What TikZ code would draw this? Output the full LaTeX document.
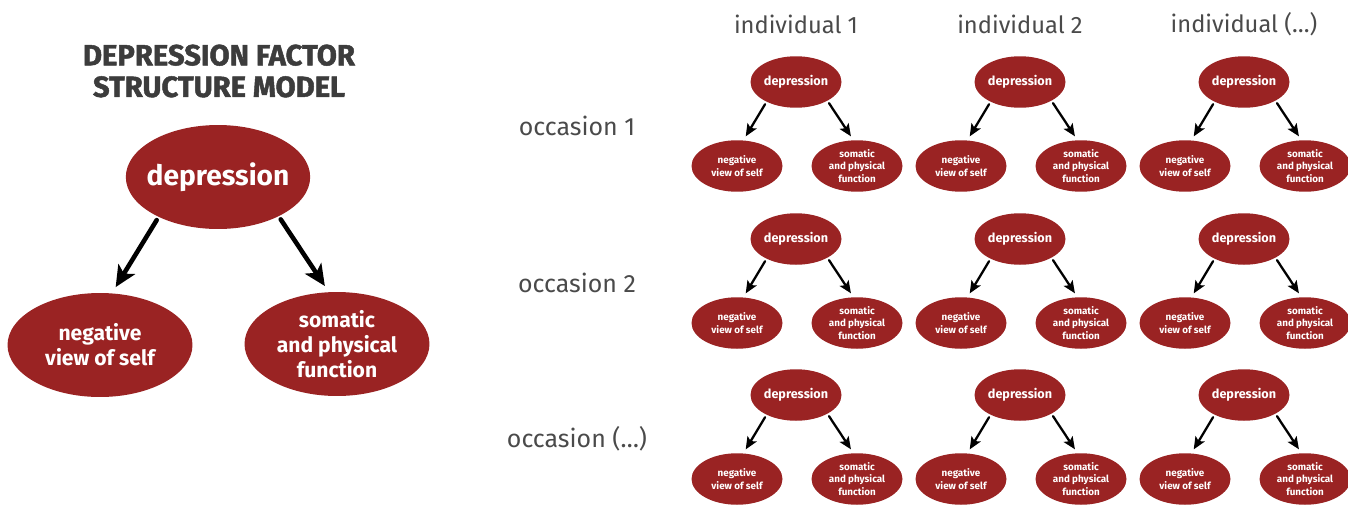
\documentclass[tikz,border=0pt]{standalone}
\usepackage{fontspec}
\setmainfont{Fira Sans}
\newfontfamily\heavyfont{Fira Sans}[BoldFeatures={FakeBold=1.6}]
\usetikzlibrary{shapes.geometric,arrows.meta}
\definecolor{factorred}{HTML}{9A2323}
\definecolor{titlegray}{HTML}{3C3C3C}
\definecolor{labelgray}{HTML}{4A4A4A}
\begin{document}
\begin{tikzpicture}[x=0.02cm,y=-0.02cm,line cap=round,
  factor/.style={ellipse,fill=factorred,text=white,inner sep=0pt,align=center,font=\bfseries},
  bigfactor/.style={factor,minimum width=3.7cm,minimum height=2.08cm,font=\bfseries\fontsize{12}{14.2}\selectfont},
  smallfactor/.style={factor,minimum width=1.82cm,minimum height=1.03cm,font=\bfseries\fontsize{5.6}{7}\selectfont},
  bigload/.style={-{Stealth[length=12pt,width=11pt,inset=3pt]},line width=2.6pt,shorten <=2pt,shorten >=4pt},
  smallload/.style={-{Stealth[length=7pt,width=6pt,inset=1.5pt]},line width=1.3pt,shorten <=1.5pt,shorten >=2.5pt},
  caption/.style={text=labelgray,font=\fontsize{13.5}{16}\selectfont}]
\useasboundingbox (0,0) rectangle (1348,504);
% model on the left
\node[text=titlegray,align=center,font=\heavyfont\bfseries\fontsize{16.6}{18}\selectfont] (title) at (219,71) {DEPRESSION FACTOR\\STRUCTURE MODEL};
\node[bigfactor,inner xsep=-3.5pt,minimum width=3.66cm,font=\bfseries\fontsize{16}{18}\selectfont] (dep) at (218,177) {depression};
\node[bigfactor] (neg) at (100,345) {negative\\view of self};
\node[bigfactor] (som) at (337,344) {somatic\\and physical\\function};
\draw[bigload] (dep.214) -- (neg.77);
\draw[bigload] (dep.327) -- (som.99);
% individuals by occasions
\foreach \col/\ix/\who in {1/796/1,2/1020/2,3/1244/(\dots)}
  \node[caption] (ind\col) at (\ix,24) {individual \who};
\foreach \row/\iy/\when in {1/82/1,2/239/2,3/395/(\dots)}{
  \node[caption,font=\fontsize{14.2}{16}\selectfont] (occ\row) at (577,\iy+44) {occasion \when};
  \foreach \col/\ix in {1/796,2/1020,3/1244}{
    \node[smallfactor,font=\bfseries\fontsize{7.2}{9}\selectfont] (dep\col\row) at (\ix,\iy) {depression};
    \node[smallfactor] (neg\col\row) at (\ix-59,\iy+84) {negative\\view of self};
    \node[smallfactor] (som\col\row) at (\ix+61,\iy+84) {somatic\\and physical\\function};
    \draw[smallload] (dep\col\row.214) -- (neg\col\row.76);
    \draw[smallload] (dep\col\row.329) -- (som\col\row.98);
  }
}
\end{tikzpicture}
\end{document}
